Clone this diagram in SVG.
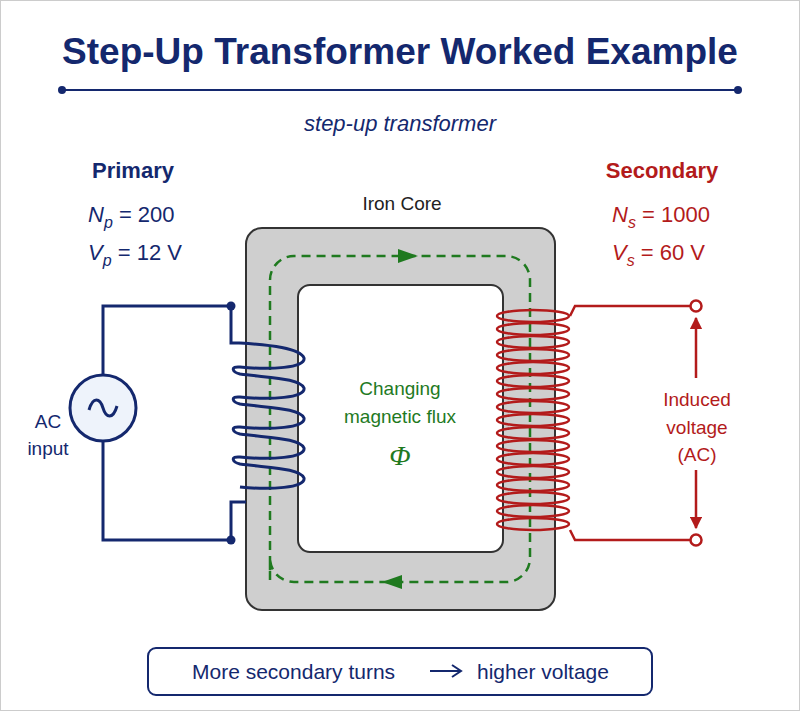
<svg xmlns="http://www.w3.org/2000/svg" width="800" height="711" viewBox="0 0 800 711">
<defs>
<style>
.t{font-family:"Liberation Sans",Roboto,sans-serif}
.navy{fill:#14286e}.red{fill:#b31b1b}.grn{fill:#1f7a1f}
.nw{stroke:#14286e;stroke-width:3;fill:none}
.rw{stroke:#b31b1b;stroke-width:2.5;fill:none}
</style>
<marker id="ar" viewBox="0 0 10 10" refX="9" refY="5" markerWidth="5" markerHeight="5" orient="auto"><path d="M0,0L10,5L0,10z" fill="#b31b1b"/></marker>
</defs>
<rect x="0.5" y="0.5" width="799" height="710" fill="#fff" stroke="#ccc"/>
<g id="title">
<text class="t navy" x="400" y="64" font-size="37" font-weight="bold" text-anchor="middle">Step-Up Transformer Worked Example</text>
<line x1="62" y1="90" x2="738" y2="90" stroke="#14286e" stroke-width="2"/>
<circle cx="62" cy="90" r="4" fill="#14286e"/><circle cx="738" cy="90" r="4" fill="#14286e"/>
<text class="t navy" x="400" y="131" font-size="22" font-style="italic" text-anchor="middle">step-up transformer</text>
</g>
<g id="primary-label" class="t navy" font-size="22">
<text x="133" y="178" font-weight="bold" text-anchor="middle">Primary</text>
<text x="88" y="222"><tspan font-style="italic">N</tspan><tspan font-style="italic" font-size="16" dy="6">p</tspan><tspan dy="-6"> = 200</tspan></text>
<text x="88" y="260"><tspan font-style="italic">V</tspan><tspan font-style="italic" font-size="16" dy="6">p</tspan><tspan dy="-6"> = 12 V</tspan></text>
</g>
<g id="secondary-label" class="t red" font-size="22">
<text x="662" y="178" font-weight="bold" text-anchor="middle">Secondary</text>
<text x="612" y="222"><tspan font-style="italic">N</tspan><tspan font-style="italic" font-size="16" dy="6">s</tspan><tspan dy="-6"> = 1000</tspan></text>
<text x="612" y="260"><tspan font-style="italic">V</tspan><tspan font-style="italic" font-size="16" dy="6">s</tspan><tspan dy="-6"> = 60 V</tspan></text>
</g>
<g id="core">
<text class="t" x="402" y="210" font-size="19" text-anchor="middle" fill="#222">Iron Core</text>
<path fill="#cfcfcf" fill-rule="evenodd" stroke="#333" stroke-width="2" d="M262,228H539A16,16 0 0 1 555,244V594A16,16 0 0 1 539,610H262A16,16 0 0 1 246,594V244A16,16 0 0 1 262,228Z M310,285H491A12,12 0 0 1 503,297V540A12,12 0 0 1 491,552H310A12,12 0 0 1 298,540V297A12,12 0 0 1 310,285Z"/>
<path d="M270,580V280A24,24 0 0 1 294,256H506A24,24 0 0 1 530,280V558A24,24 0 0 1 506,582H294A24,24 0 0 1 270,558Z" fill="none" stroke="#1f7a1f" stroke-width="2.5" stroke-dasharray="9,6"/>
<path d="M398,249L418,256L398,263Z" fill="#1f7a1f"/>
<path d="M402,575L382,582L402,589Z" fill="#1f7a1f"/>
</g>
<g id="flux" class="t grn" font-size="19" text-anchor="middle">
<text x="400" y="395">Changing</text>
<text x="400" y="423">magnetic flux</text>
<text x="400" y="465" font-family="Liberation Serif,serif" font-style="italic" font-size="28">Φ</text>
</g>
<g id="ac-source">
<circle cx="103" cy="408" r="33" fill="#eef3fb" stroke="#14286e" stroke-width="3"/>
<path d="M89,410C93,396 100,398 103,408S113,420 117,406" class="nw"/>
<text class="t navy" x="48" y="428" font-size="19" text-anchor="middle">AC</text>
<text class="t navy" x="48" y="455" font-size="19" text-anchor="middle">input</text>
</g>
<g id="connectors">
<path class="nw" d="M103,375V306H231V343H240"/>
<path class="nw" d="M103,441V540H231V502H246"/>
<circle cx="231" cy="306" r="4.5" fill="#14286e"/><circle cx="231" cy="540" r="4.5" fill="#14286e"/>
<path class="rw" d="M570,316L575,306H690"/>
<path class="rw" d="M570,530L575,540H690"/>
<circle cx="696" cy="306" r="5.5" fill="#fff" stroke="#b31b1b" stroke-width="2.5"/>
<circle cx="696" cy="540" r="5.5" fill="#fff" stroke="#b31b1b" stroke-width="2.5"/>
<line x1="696" y1="378" x2="696" y2="318" class="rw" marker-end="url(#ar)"/>
<line x1="696" y1="470" x2="696" y2="528" class="rw" marker-end="url(#ar)"/>
</g>
<g id="primary-coil" class="nw">
<path d="M240,343C270,345 300,348 304,358C306,368 270,370 240,367C230,366 232,372 240,374C270,378 300,378 304,388C306,398 270,400 240,397C230,396 232,402 240,404C270,408 300,408 304,418C306,428 270,430 240,427C230,426 232,432 240,434C270,438 300,438 304,448C306,458 270,460 240,457C230,456 232,462 240,464C270,468 300,468 304,478C306,488 270,490 240,487"/>
</g>
<g id="secondary-coil" class="rw" stroke-width="2.8">
<ellipse cx="533" cy="316" rx="36" ry="6"/><ellipse cx="533" cy="329" rx="36" ry="6"/><ellipse cx="533" cy="342" rx="36" ry="6"/><ellipse cx="533" cy="355" rx="36" ry="6"/><ellipse cx="533" cy="368" rx="36" ry="6"/><ellipse cx="533" cy="381" rx="36" ry="6"/><ellipse cx="533" cy="394" rx="36" ry="6"/><ellipse cx="533" cy="407" rx="36" ry="6"/><ellipse cx="533" cy="420" rx="36" ry="6"/><ellipse cx="533" cy="433" rx="36" ry="6"/><ellipse cx="533" cy="446" rx="36" ry="6"/><ellipse cx="533" cy="459" rx="36" ry="6"/><ellipse cx="533" cy="472" rx="36" ry="6"/><ellipse cx="533" cy="485" rx="36" ry="6"/><ellipse cx="533" cy="498" rx="36" ry="6"/><ellipse cx="533" cy="511" rx="36" ry="6"/><ellipse cx="533" cy="524" rx="36" ry="6"/>
</g>
<g id="induced-label" class="t red" font-size="19" text-anchor="middle">
<text x="697" y="406">Induced</text>
<text x="697" y="434">voltage</text>
<text x="697" y="461">(AC)</text>
</g>
<g id="summary">
<rect x="148" y="648" width="504" height="47" rx="8" fill="#fff" stroke="#14286e" stroke-width="2"/>
<text class="t navy" x="192" y="679" font-size="21">More secondary turns</text>
<path d="M430,671H460M452,665L461,671L452,677" stroke="#14286e" stroke-width="2" fill="none"/>
<text class="t navy" x="477" y="679" font-size="21">higher voltage</text>
</g>
</svg>
